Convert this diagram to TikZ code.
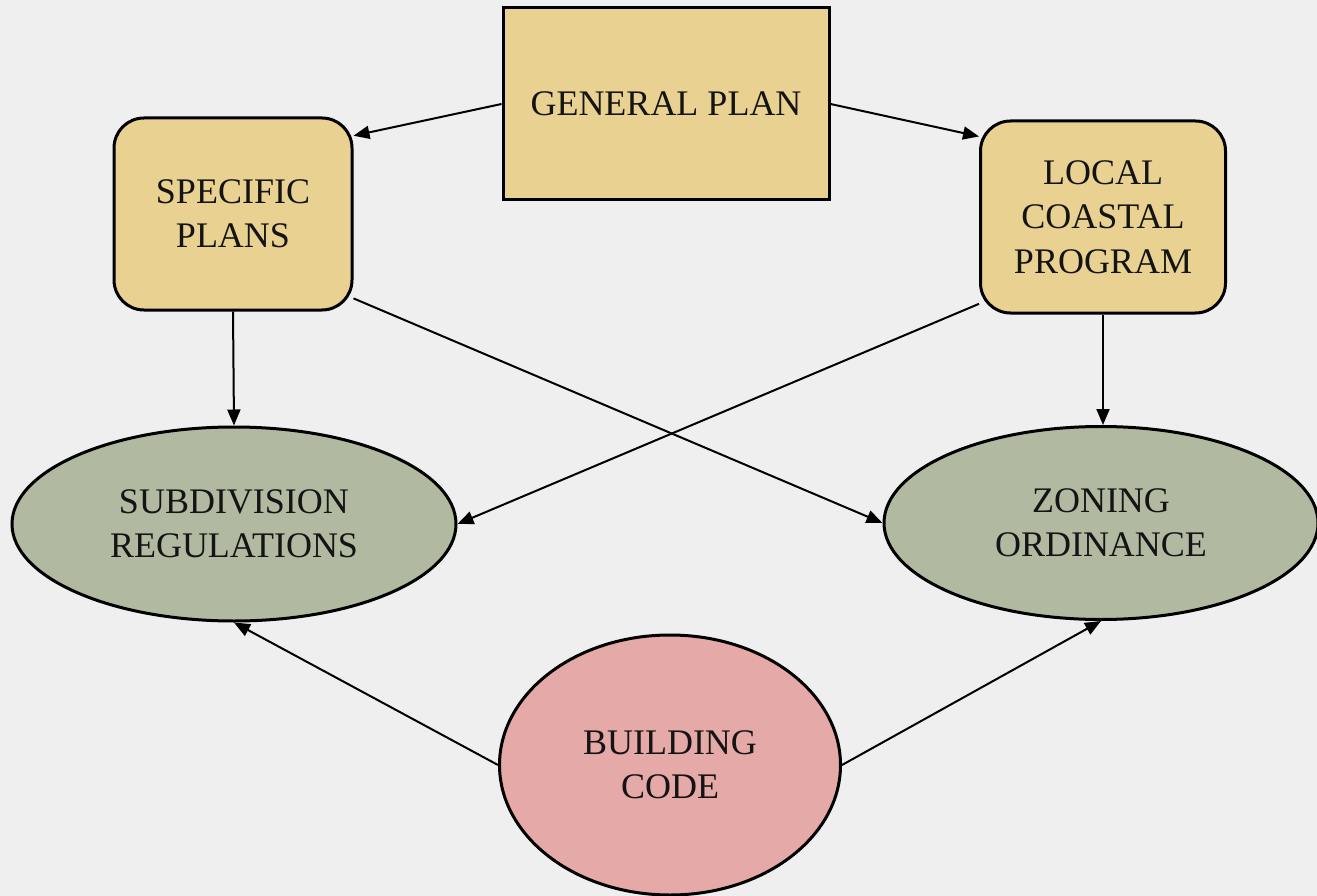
\documentclass[tikz,border=0pt]{standalone}
\usepackage{fontspec}
\setmainfont{Liberation Serif}
\usetikzlibrary{shapes.geometric,arrows.meta}
\definecolor{bgc}{HTML}{EFEFEF}
\definecolor{tan}{HTML}{E8D191}
\definecolor{sage}{HTML}{B1BAA0}
\definecolor{rose}{HTML}{E5A9A7}
\tikzset{
  base/.style={draw=black,line width=3pt,align=center,inner sep=0pt,
    font=\fontsize{36}{44.5}\selectfont,text=black!92},
  plainbox/.style={base,rectangle,fill=tan},
  roundbox/.style={base,rectangle,rounded corners=30pt,fill=tan},
  oval/.style={base,ellipse,fill=sage},
  redoval/.style={base,ellipse,fill=rose},
  conn/.style={line width=2pt,-{Triangle[length=16pt,width=13pt]}}
}
\begin{document}
\begin{tikzpicture}[x=1pt,y=-1pt]
\fill[bgc] (0,0) rectangle (1317,896);
\useasboundingbox (0,0) rectangle (1317,896);
\node[plainbox,minimum width=326pt,minimum height=192pt] (gp) at (666,104) {GENERAL PLAN};
\node[roundbox,minimum width=238pt,minimum height=192pt] (sp) at (233,214) {SPECIFIC\\PLANS};
\node[roundbox,minimum width=245pt,minimum height=192pt] (lcp) at (1103,217) {LOCAL\\COASTAL\\PROGRAM};
\node[oval,minimum width=444pt,minimum height=194pt] (sub) at (234,524) {SUBDIVISION\\REGULATIONS};
\node[oval,minimum width=434pt,minimum height=193pt] (zon) at (1101,523) {ZONING\\ORDINANCE};
\node[redoval,minimum width=341pt,minimum height=260pt] (bc) at (670,765) {BUILDING\\CODE};
\draw[conn] (gp.west) -- (sp.33);
\draw[conn] (gp.east) -- (lcp.147);
\draw[conn] (sp.south) -- (sub.north);
\draw[conn] (lcp.south) -- (lcp.south |- zon.north);
\draw[conn] (sp.-35) -- (zon.west);
\draw[conn] (lcp.215) -- (sub.east);
\draw[conn] (bc.west) -- (sub.south);
\draw[conn] (bc.east) -- (zon.south);
\end{tikzpicture}
\end{document}
